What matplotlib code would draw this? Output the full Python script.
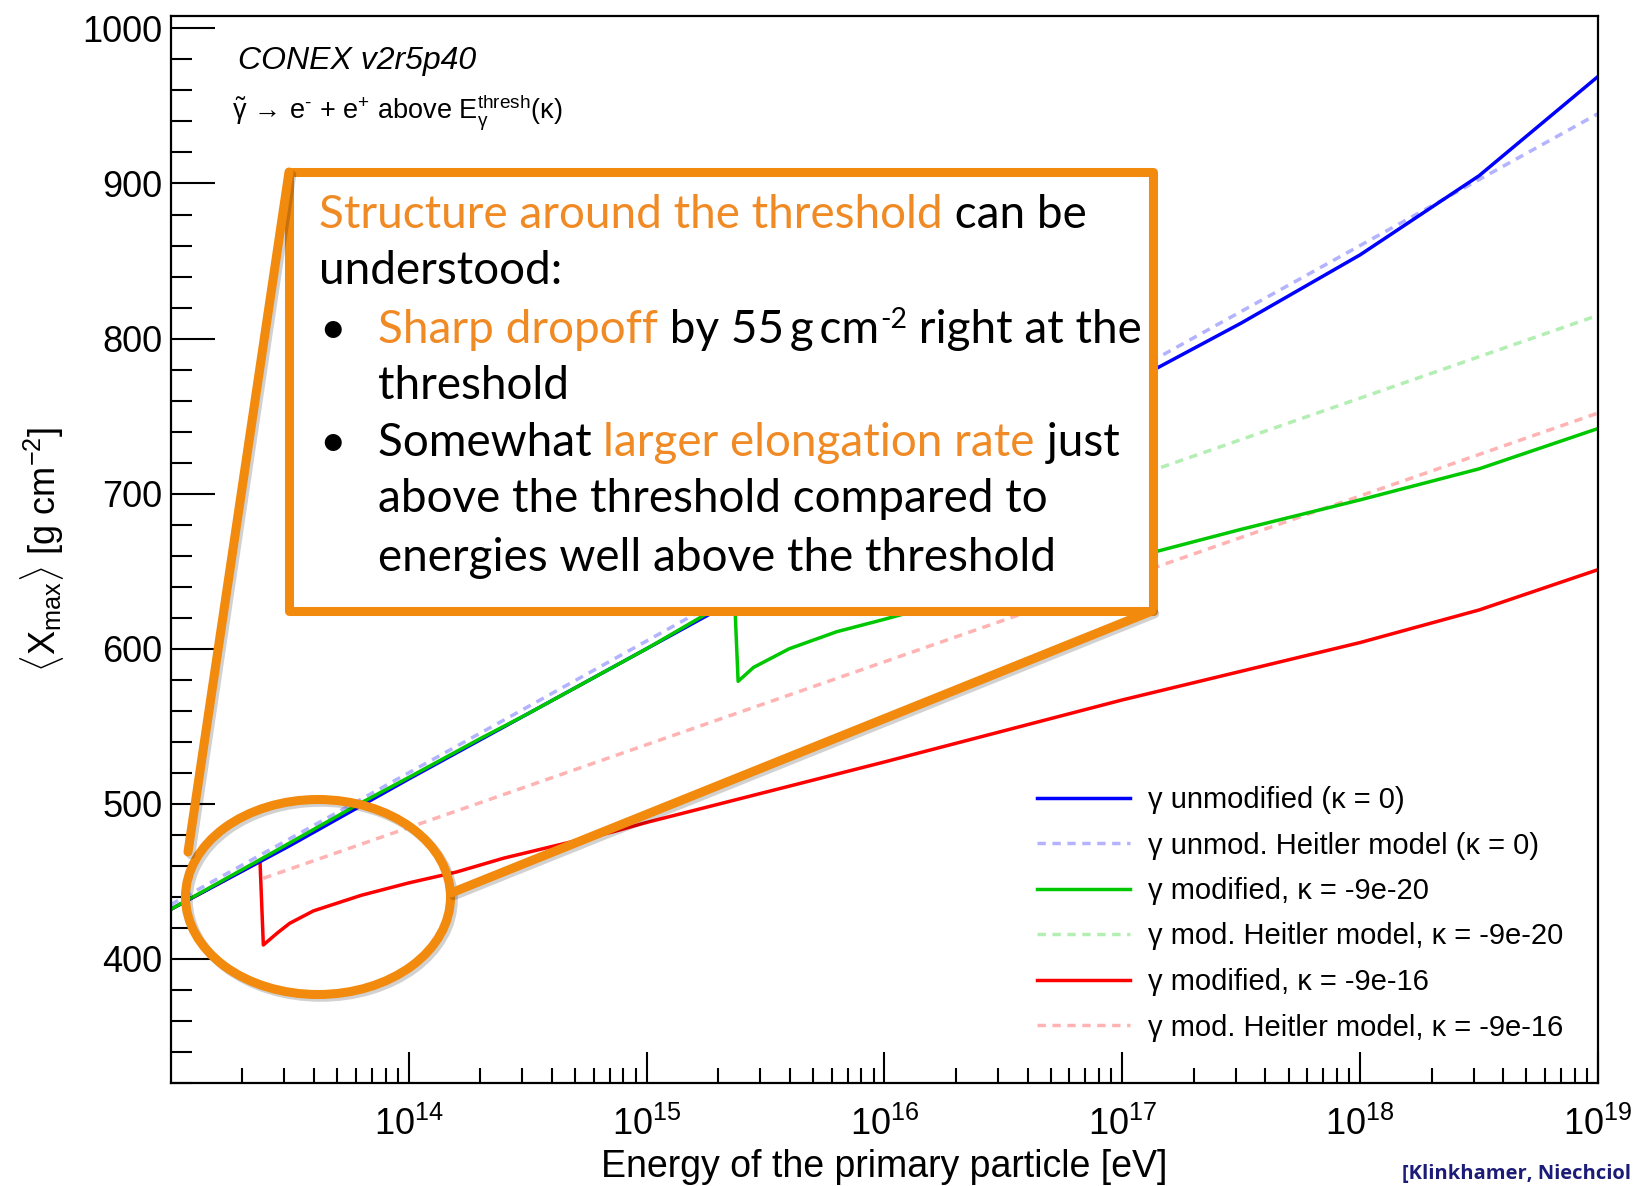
import matplotlib
matplotlib.use("Agg")
import numpy as np
import matplotlib.pyplot as plt
import matplotlib.patheffects as pe
from matplotlib.patches import Rectangle, Ellipse
from matplotlib.lines import Line2D
from matplotlib.ticker import FixedLocator, LogLocator, MultipleLocator, NullFormatter

plt.rcParams["font.family"] = ["Liberation Sans", "DejaVu Sans"]
plt.rcParams["mathtext.fontset"] = "custom"
plt.rcParams["mathtext.rm"] = "Liberation Sans"
plt.rcParams["mathtext.it"] = "Liberation Sans:italic"
plt.rcParams["mathtext.bf"] = "Liberation Sans:bold"

# <Xmax> [g/cm2] vs log10(E / eV) of the primary photon
loge_unmod = [13.0, 13.5, 14.0, 14.5, 15.0, 15.5, 16.0, 16.5, 17.0, 17.5, 18.0, 18.5, 19.0]
xmax_unmod = [432, 473, 516, 558, 600, 642, 685, 727, 769, 810, 854, 905, 969]

loge_heitler_unmod = [13.0, 14.0, 15.0, 16.0, 17.0, 18.0, 19.0]
xmax_heitler_unmod = [435, 520, 605, 690, 775, 860, 945]

loge_mod20 = [13.0, 13.375, 13.78, 14.0, 14.3, 14.5, 15.0, 15.37, 15.385, 15.45, 15.6,
              15.8, 16.0, 16.5, 17.0, 17.5, 18.0, 18.5, 19.0]
xmax_mod20 = [432, 464, 499, 517, 542, 558, 600, 633, 579, 588, 600,
              611, 619, 640, 657, 677, 696, 716, 742]

loge_heitler_mod20 = [15.385, 19.0]
xmax_heitler_mod20 = [622, 815]

loge_mod16 = [13.0, 13.375, 13.389, 13.45, 13.5, 13.6, 13.8, 14.0, 14.2, 14.4, 14.86,
              15.0, 16.0, 16.7, 17.0, 18.0, 18.5, 19.0]
xmax_mod16 = [432, 463, 409, 417, 423, 431, 441, 449, 456, 465, 482,
              488, 527, 555, 567, 604, 625, 651]

loge_heitler_mod16 = [13.389, 19.0]
xmax_heitler_mod16 = [452, 752]

labels = [
    "\u03b3 unmodified (\u03ba = 0)",
    "\u03b3 unmod. Heitler model (\u03ba = 0)",
    "\u03b3 modified, \u03ba = -9e-20",
    "\u03b3 mod. Heitler model, \u03ba = -9e-20",
    "\u03b3 modified, \u03ba = -9e-16",
    "\u03b3 mod. Heitler model, \u03ba = -9e-16",
]

BLUE, BLUE_L = "#0000ff", "#b3b3ff"
GREEN, GREEN_L = "#00c800", "#b3eeb3"
RED, RED_L = "#ff0000", "#ffb3b3"
ORANGE = "#f28a0e"
ORANGE_TXT = "#f08a24"

W, H = 1635, 1186
fig = plt.figure(figsize=(W / 100, H / 100), dpi=100)
ax = fig.add_axes([170.8 / W, 1 - 1083 / H, (1598 - 170.8) / W, (1083 - 16) / H])

lw = 2.5
dash = (2.4, 1.9)


def energy(loge):
    return [10.0 ** v for v in loge]


ax.plot(energy(loge_heitler_mod16), xmax_heitler_mod16, color=RED_L, lw=lw, dashes=dash)
ax.plot(energy(loge_heitler_mod20), xmax_heitler_mod20, color=GREEN_L, lw=lw, dashes=dash)
ax.plot(energy(loge_heitler_unmod), xmax_heitler_unmod, color=BLUE_L, lw=lw, dashes=dash)
ax.plot(energy(loge_mod16), xmax_mod16, color=RED, lw=lw)
ax.plot(energy(loge_unmod), xmax_unmod, color=BLUE, lw=lw)
ax.plot(energy(loge_mod20), xmax_mod20, color=GREEN, lw=lw)

ax.set_xscale("log")
ax.set_xlim(1e13, 1e19)
ax.set_ylim(320, 1008)

ax.xaxis.set_major_locator(FixedLocator([1e14, 1e15, 1e16, 1e17, 1e18, 1e19]))
ax.xaxis.set_minor_locator(LogLocator(base=10, subs=np.arange(2, 10)))
ax.xaxis.set_minor_formatter(NullFormatter())
ax.yaxis.set_major_locator(MultipleLocator(100))
ax.yaxis.set_minor_locator(MultipleLocator(20))

ax.tick_params(axis="both", which="both", direction="in", width=1.5, top=False, right=False)
ax.tick_params(axis="y", which="major", length=31.5, pad=6, labelsize=26)
ax.tick_params(axis="y", which="minor", length=15)
ax.tick_params(axis="x", which="major", length=22, pad=17, labelsize=26)
ax.tick_params(axis="x", which="minor", length=11)
for s in ax.spines.values():
    s.set_linewidth(1.6)

ax.set_xlabel("Energy of the primary particle [eV]", fontsize=27, va="center")
ax.xaxis.set_label_coords(0.5, -0.079)
ax.set_ylabel(r"$\langle$X$_{\rm max}\rangle$ [g cm$^{-2}$]", fontsize=26, va="center")
ax.yaxis.set_label_coords(-0.09, 0.5)

handles = [
    Line2D([], [], color=BLUE, lw=lw),
    Line2D([], [], color=BLUE_L, lw=lw, dashes=dash),
    Line2D([], [], color=GREEN, lw=lw),
    Line2D([], [], color=GREEN_L, lw=lw, dashes=dash),
    Line2D([], [], color=RED, lw=lw),
    Line2D([], [], color=RED_L, lw=lw, dashes=dash),
]
fig.legend(handles, labels, loc="upper left", bbox_to_anchor=(1037 / W, 1 - 786 / H),
           frameon=False, fontsize=21, handlelength=3.2, handletextpad=0.6,
           labelspacing=0.6, borderpad=0, borderaxespad=0)

ax.text(0.047, 0.958, "CONEX v2r5p40", transform=ax.transAxes,
        fontsize=23, style="italic", va="center", ha="left")
ax.text(0.043, 0.910,
        r"$\tilde{\mathrm{\gamma}}\,\rightarrow\,$e$^{\text{-}}$ + e$^{+}$ above "
        r"E$_{\mathrm{\gamma}}^{\mathrm{thresh}}$($\mathrm{\kappa}$)",
        transform=ax.transAxes, fontsize=19.5, va="center", ha="left")

# callout overlay, drawn in pixel coordinates of the figure
ov = fig.add_axes([0, 0, 1, 1], zorder=5)
ov.set_xlim(0, W)
ov.set_ylim(H, 0)
ov.axis("off")
ov.patch.set_alpha(0)

line_fx = [pe.SimpleLineShadow(offset=(2, -2), shadow_color="k", alpha=0.18), pe.Normal()]
ov.plot([289, 188], [172, 852], color=ORANGE, lw=6.5, solid_capstyle="round", path_effects=line_fx)
ov.plot([1152, 451], [611, 893], color=ORANGE, lw=6.5, solid_capstyle="round", path_effects=line_fx)
ov.add_patch(Ellipse((318, 897), 265, 195, fill=False, edgecolor=ORANGE, lw=6.5,
                     path_effects=line_fx))
ov.add_patch(Rectangle((288.5, 171.5), 864, 439, facecolor="white", edgecolor=ORANGE,
                       lw=6.5, joinstyle="round",
                       path_effects=[pe.SimplePatchShadow(offset=(3, -3), shadow_rgbFace="k", alpha=0.2),
                                     pe.Normal()]))

BOX_FONT = ["Lato", "DejaVu Sans"]
BOX_SIZE = 33


def put_line(x, y, segments):
    prev = None
    for text, color in segments:
        if prev is None:
            prev = ov.text(x, y, text, color=color, fontsize=BOX_SIZE, family=BOX_FONT,
                           va="baseline", ha="left")
        else:
            prev = ov.annotate(text, xy=(1, 0), xycoords=prev, va="bottom", ha="left",
                               color=color, fontsize=BOX_SIZE, family=BOX_FONT)
    return prev


put_line(319, 228, [("Structure around the threshold", ORANGE_TXT), (" can be", "black")])
put_line(319, 284, [("understood:", "black")])
ov.text(319, 343, "\u2022", fontsize=BOX_SIZE, family=BOX_FONT, va="baseline")
cm = put_line(378, 343, [("Sharp dropoff", ORANGE_TXT), (" by 55\u2009g\u2009cm", "black")])
sup = ov.annotate("-2", xy=(1, 0), xycoords=cm, xytext=(1, 13), textcoords="offset points",
                  va="bottom", ha="left", fontsize=BOX_SIZE * 0.62, family=BOX_FONT)
ov.annotate(" right at the", xy=(1, 0), xycoords=(sup, cm), va="bottom", ha="left",
            fontsize=BOX_SIZE, family=BOX_FONT)
put_line(378, 399, [("threshold", "black")])
ov.text(319, 456, "\u2022", fontsize=BOX_SIZE, family=BOX_FONT, va="baseline")
put_line(378, 456, [("Somewhat ", "black"), ("larger elongation rate", ORANGE_TXT), (" just", "black")])
put_line(378, 512, [("above the threshold compared to", "black")])
put_line(378, 571, [("energies well above the threshold", "black")])

ov.text(1402, 1164, "[Klinkhamer, Niechciol", fontsize=14.5, weight="bold", color="#1c1c78",
        family=["Open Sans", "DejaVu Sans"], va="top", ha="left")

fig.savefig("out.png", dpi=100)
